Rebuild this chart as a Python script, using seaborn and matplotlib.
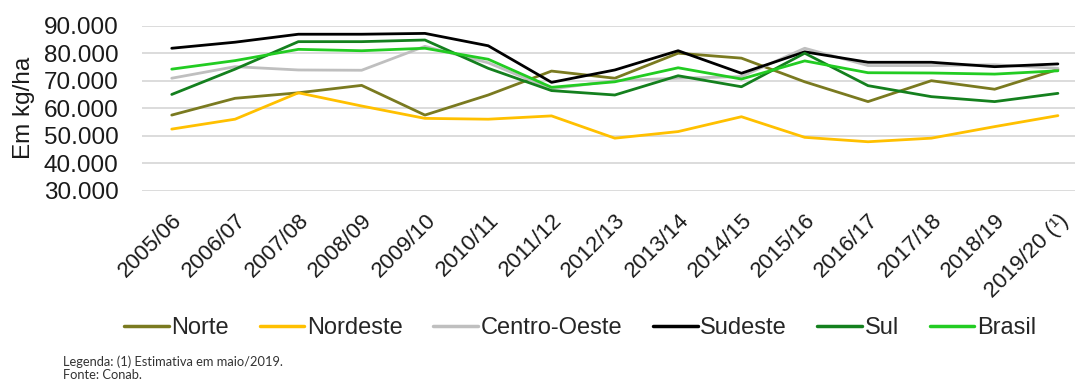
import matplotlib
matplotlib.use("Agg")
import matplotlib.pyplot as plt
import matplotlib.ticker as mticker
import numpy as np
import pandas as pd
import seaborn as sns

safras = ["2005/06", "2006/07", "2007/08", "2008/09", "2009/10", "2010/11",
          "2011/12", "2012/13", "2013/14", "2014/15", "2015/16", "2016/17",
          "2017/18", "2018/19", "2019/20 (¹)"]

norte = [57500, 63600, 65600, 68300, 57500, 64800, 73500, 70900, 80000,
         78200, 69600, 62400, 70000, 66900, 74100]
nordeste = [52400, 56000, 65600, 60800, 56300, 56000, 57200, 49100, 51500,
            56900, 49400, 47800, 49100, 53300, 57300]
centro_oeste = [70900, 75100, 73900, 73800, 82500, 76500, 67000, 70000, 70900,
                71500, 81800, 75500, 75500, 75800, 74500]
sudeste = [81800, 84000, 86900, 86900, 87200, 82700, 69400, 73900, 80900,
           72700, 80500, 76700, 76700, 75100, 76100]
sul = [65000, 74200, 84200, 84200, 84800, 74500, 66400, 64800, 71800,
       67800, 80000, 68200, 64200, 62400, 65400]
brasil = [74200, 77300, 81400, 80900, 81800, 77800, 67600, 69600, 74700,
          70600, 77200, 72900, 72800, 72400, 73600]

regioes = ["Norte", "Nordeste", "Centro-Oeste", "Sudeste", "Sul", "Brasil"]
cores = ["#7a7a20", "#ffc000", "#bfbfbf", "#000000", "#14801e", "#22cc22"]

series = {"Norte": norte, "Nordeste": nordeste, "Centro-Oeste": centro_oeste,
          "Sudeste": sudeste, "Sul": sul, "Brasil": brasil}
df = pd.concat(
    [pd.DataFrame({"pos": np.arange(len(safras)), "valor": v, "regiao": k})
     for k, v in series.items()],
    ignore_index=True,
)

sns.set_style("white")
plt.rcParams["font.family"] = ["Liberation Sans", "DejaVu Sans"]

fig = plt.figure(figsize=(10.78, 3.83), dpi=100)
ax = fig.add_axes([142 / 1078, 1 - 190.7 / 383, 933 / 1078, (190.7 - 25.7) / 383])

sns.lineplot(data=df, x="pos", y="valor", hue="regiao", hue_order=regioes,
             palette=cores, linewidth=2.0, ax=ax, legend=False)

ax.set_xlim(-0.47, 14.27)
ax.set_ylim(30000, 90000)
ax.set_yticks(np.arange(30000, 90001, 10000))
ax.yaxis.set_major_formatter(
    mticker.FuncFormatter(lambda v, p: f"{int(v):,}".replace(",", ".")))
ax.grid(axis="y", color="#d9d9d9", linewidth=1.3)
ax.set_axisbelow(True)
for s in ax.spines.values():
    s.set_visible(False)

ax.set_xticks(np.arange(len(safras)))
ax.set_xticklabels(safras, rotation=45, ha="right", va="top",
                   rotation_mode="anchor", fontsize=16, color="#1a1a1a")
ax.tick_params(axis="x", length=0, pad=14)
ax.tick_params(axis="y", length=0, pad=17, labelsize=17.5, labelcolor="#1a1a1a")
ax.set_xlabel("")
ax.set_ylabel("Em kg/ha", fontsize=17.5, color="#1a1a1a", labelpad=6)

handles = [plt.Line2D([], [], color=c, linewidth=2.5) for c in cores]
fig.legend(handles, regioes, loc="center", ncol=6, frameon=False,
           bbox_to_anchor=(580 / 1078, 1 - 328 / 383), fontsize=17,
           handlelength=1.9, handletextpad=0.1, columnspacing=1.3)

fig.text(63 / 1078, 1 - 362 / 383, "Legenda: (1) Estimativa em maio/2019.",
         fontsize=9.3, family=["Lato", "DejaVu Sans"], color="#333333",
         va="center")
fig.text(63 / 1078, 1 - 375 / 383, "Fonte: Conab.",
         fontsize=9.3, family=["Lato", "DejaVu Sans"], color="#333333",
         va="center")

fig.savefig("out.png", dpi=100)
